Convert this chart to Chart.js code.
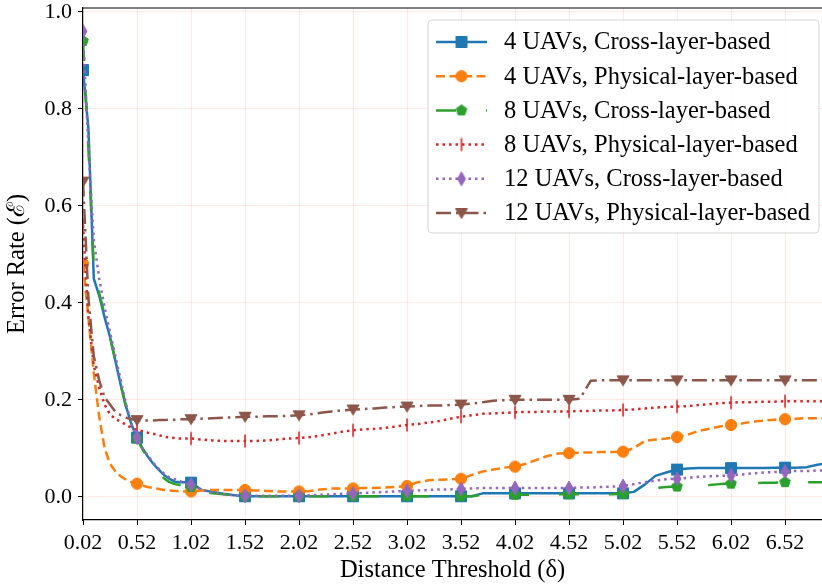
<!DOCTYPE html>
<html lang="en">
<head>
<meta charset="UTF-8">
<title>Error Rate vs Distance Threshold</title>
<script src="https://cdn.jsdelivr.net/npm/chart.js"></script>
<style>
    body {
        margin: 0;
        background: #fff;
    }

    #wrap {
        width: 822px;
        height: 585px;
    }
</style>
</head>
<body>
<div id="wrap"><canvas id="errChart" width="822" height="585"></canvas></div>

<script>
    // Distance threshold samples (finer steps over the initial drop)
    const distances = [
        0.02, 0.07, 0.12, 0.17, 0.22, 0.27, 0.32, 0.37, 0.42, 0.47,
        0.52, 0.57, 0.62, 0.67, 0.72, 0.77, 0.82, 0.87, 0.92, 0.97,
        1.02, 1.12, 1.22, 1.32, 1.42, 1.52, 1.62, 1.72, 1.82, 1.92,
        2.02, 2.12, 2.22, 2.32, 2.42, 2.52, 2.62, 2.72, 2.82, 2.92,
        3.02, 3.12, 3.22, 3.32, 3.42, 3.52, 3.62, 3.72, 3.82, 3.92,
        4.02, 4.12, 4.22, 4.32, 4.42, 4.52, 4.62, 4.72, 4.82, 4.92,
        5.02, 5.12, 5.22, 5.32, 5.42, 5.52, 5.62, 5.72, 5.82, 5.92,
        6.02, 6.12, 6.22, 6.32, 6.42, 6.52, 6.62, 6.72, 6.82, 6.92
    ];

    const xTicks = [0.02, 0.52, 1.02, 1.52, 2.02, 2.52, 3.02, 3.52, 4.02, 4.52, 5.02, 5.52, 6.02, 6.52];
    const xTickLabels = ['0.02', '0.52', '1.02', '1.52', '2.02', '2.52', '3.02', '3.52', '4.02', '4.52', '5.02', '5.52', '6.02', '6.52'];
    const yTicks = [0.0, 0.2, 0.4, 0.6, 0.8, 1.0];
    const yTickLabels = ['0.0', '0.2', '0.4', '0.6', '0.8', '1.0'];

    const seriesLabels = [
        '4 UAVs, Cross-layer-based',
        '4 UAVs, Physical-layer-based',
        '8 UAVs, Cross-layer-based',
        '8 UAVs, Physical-layer-based',
        '12 UAVs, Cross-layer-based',
        '12 UAVs, Physical-layer-based'
    ];

    const uav4Cross = [
        0.88, 0.76, 0.45, 0.415, 0.37, 0.33, 0.28, 0.23, 0.185, 0.148,
        0.122, 0.100, 0.083, 0.068, 0.056, 0.045, 0.037, 0.031, 0.030, 0.030,
        0.029, 0.014, 0.010, 0.006, 0.003, 0.001, 0.001, 0.001, 0.001, 0.001,
        0.001, 0.001, 0.001, 0.001, 0.001, 0.001, 0.001, 0.001, 0.001, 0.001,
        0.001, 0.001, 0.001, 0.001, 0.001, 0.001, 0.001, 0.007, 0.007, 0.007,
        0.007, 0.007, 0.007, 0.007, 0.007, 0.007, 0.007, 0.007, 0.007, 0.007,
        0.007, 0.010, 0.025, 0.043, 0.050, 0.056, 0.058, 0.059, 0.059, 0.059,
        0.059, 0.059, 0.059, 0.059, 0.060, 0.060, 0.060, 0.061, 0.066, 0.070
    ];

    const uav4Phys = [
        0.48, 0.37, 0.255, 0.165, 0.100, 0.068, 0.052, 0.042, 0.035, 0.030,
        0.027, 0.023, 0.020, 0.018, 0.016, 0.014, 0.013, 0.012, 0.012, 0.011,
        0.011, 0.013, 0.014, 0.014, 0.014, 0.014, 0.013, 0.012, 0.011, 0.011,
        0.011, 0.012, 0.015, 0.017, 0.017, 0.017, 0.018, 0.018, 0.019, 0.020,
        0.022, 0.030, 0.034, 0.035, 0.036, 0.037, 0.045, 0.052, 0.056, 0.060,
        0.062, 0.068, 0.076, 0.084, 0.089, 0.090, 0.091, 0.091, 0.092, 0.092,
        0.093, 0.100, 0.115, 0.118, 0.120, 0.123, 0.128, 0.136, 0.140, 0.145,
        0.148, 0.151, 0.155, 0.157, 0.159, 0.160, 0.161, 0.162, 0.162, 0.162
    ];

    const uav8Cross = [
        0.94, 0.72, 0.47, 0.42, 0.375, 0.33, 0.28, 0.23, 0.183, 0.145,
        0.120, 0.098, 0.080, 0.064, 0.050, 0.038, 0.030, 0.026, 0.024, 0.022,
        0.020, 0.010, 0.007, 0.005, 0.003, 0.001, 0.001, 0.001, 0.001, 0.001,
        0.001, 0.001, 0.001, 0.001, 0.001, 0.001, 0.001, 0.001, 0.001, 0.001,
        0.001, 0.001, 0.001, 0.001, 0.001, 0.001, 0.001, 0.004, 0.004, 0.004,
        0.004, 0.004, 0.004, 0.005, 0.005, 0.005, 0.005, 0.005, 0.005, 0.005,
        0.006, 0.007, 0.012, 0.018, 0.020, 0.021, 0.022, 0.023, 0.024, 0.026,
        0.027, 0.028, 0.028, 0.029, 0.029, 0.030, 0.030, 0.030, 0.030, 0.030
    ];

    const uav8Phys = [
        0.56, 0.37, 0.27, 0.225, 0.190, 0.170, 0.160, 0.155, 0.148, 0.142,
        0.138, 0.135, 0.132, 0.130, 0.127, 0.124, 0.122, 0.121, 0.120, 0.120,
        0.120, 0.118, 0.116, 0.115, 0.115, 0.115, 0.115, 0.116, 0.118, 0.120,
        0.121, 0.123, 0.126, 0.130, 0.134, 0.137, 0.139, 0.140, 0.142, 0.145,
        0.148, 0.150, 0.153, 0.156, 0.161, 0.165, 0.168, 0.171, 0.172, 0.173,
        0.174, 0.175, 0.175, 0.176, 0.176, 0.176, 0.177, 0.177, 0.178, 0.178,
        0.179, 0.180, 0.182, 0.184, 0.185, 0.186, 0.187, 0.189, 0.191, 0.193,
        0.194, 0.195, 0.195, 0.196, 0.196, 0.197, 0.197, 0.197, 0.197, 0.197
    ];

    const uav12Cross = [
        0.96, 0.72, 0.53, 0.45, 0.39, 0.34, 0.29, 0.24, 0.19, 0.15,
        0.122, 0.100, 0.085, 0.070, 0.058, 0.048, 0.040, 0.036, 0.032, 0.028,
        0.025, 0.014, 0.008, 0.005, 0.003, 0.002, 0.002, 0.002, 0.002, 0.002,
        0.002, 0.003, 0.004, 0.005, 0.006, 0.007, 0.008, 0.009, 0.010, 0.011,
        0.012, 0.013, 0.014, 0.015, 0.015, 0.016, 0.017, 0.018, 0.018, 0.018,
        0.018, 0.018, 0.018, 0.018, 0.018, 0.018, 0.019, 0.019, 0.020, 0.021,
        0.022, 0.026, 0.030, 0.033, 0.036, 0.037, 0.039, 0.041, 0.042, 0.043,
        0.044, 0.046, 0.048, 0.050, 0.051, 0.052, 0.053, 0.053, 0.054, 0.054
    ];

    const uav12Phys = [
        0.65, 0.41, 0.29, 0.24, 0.205, 0.190, 0.175, 0.168, 0.163, 0.160,
        0.158, 0.157, 0.157, 0.157, 0.158, 0.158, 0.159, 0.159, 0.160, 0.160,
        0.160, 0.161, 0.162, 0.163, 0.164, 0.165, 0.165, 0.166, 0.166, 0.167,
        0.168, 0.170, 0.173, 0.176, 0.178, 0.180, 0.181, 0.182, 0.184, 0.185,
        0.186, 0.187, 0.188, 0.188, 0.189, 0.190, 0.192, 0.195, 0.198, 0.199,
        0.200, 0.200, 0.200, 0.200, 0.200, 0.200, 0.202, 0.239, 0.240, 0.240,
        0.240, 0.240, 0.240, 0.240, 0.240, 0.240, 0.240, 0.240, 0.240, 0.240,
        0.240, 0.240, 0.240, 0.240, 0.240, 0.240, 0.240, 0.240, 0.240, 0.240
    ];

    const seriesValues = [uav4Cross, uav4Phys, uav8Cross, uav8Phys, uav12Cross, uav12Phys];

    const serif = "'Liberation Serif', 'Times New Roman', serif";

    // Line style and marker per series
    const styles = [
        { color: '#1f77b4', dash: [], marker: 'square' },
        { color: '#ff7f0e', dash: [9, 4.5], marker: 'circle' },
        { color: '#2ca02c', dash: [20, 30], marker: 'pentagon' },
        { color: '#d62728', dash: [2.5, 4], marker: 'vline' },
        { color: '#9467bd', dash: [2.5, 4], marker: 'thinDiamond' },
        { color: '#8c564b', dash: [15, 5, 2.5, 5], marker: 'triangleDown' }
    ];

    // Small offscreen canvases used as point styles
    function makeMarker(shape, color) {
        const c = document.createElement('canvas');
        c.width = 18;
        c.height = 18;
        const g = c.getContext('2d');
        g.translate(9, 9);
        g.fillStyle = color;
        g.strokeStyle = color;
        g.lineWidth = 1;
        g.beginPath();
        switch (shape) {
            case 'square':
                g.rect(-5.5, -5.5, 11, 11);
                break;
            case 'circle':
                g.arc(0, 0, 5.6, 0, Math.PI * 2);
                break;
            case 'pentagon':
                for (let k = 0; k < 5; k++) {
                    const a = -Math.PI / 2 + k * 2 * Math.PI / 5;
                    g.lineTo(5.6 * Math.cos(a), 5.6 * Math.sin(a));
                }
                g.closePath();
                break;
            case 'vline':
                g.moveTo(0, -6.5);
                g.lineTo(0, 6.5);
                g.lineWidth = 1.6;
                g.stroke();
                return c;
            case 'thinDiamond':
                g.moveTo(0, -7);
                g.lineTo(4, 0);
                g.lineTo(0, 7);
                g.lineTo(-4, 0);
                g.closePath();
                break;
            case 'triangleDown':
                g.moveTo(-6, -4.5);
                g.lineTo(6, -4.5);
                g.lineTo(0, 5.5);
                g.closePath();
                break;
        }
        g.fill();
        g.stroke();
        return c;
    }

    const markers = styles.map(s => makeMarker(s.marker, s.color));

    // markers only sit on the labelled distances
    function isMark(x) {
        return xTicks.some(t => Math.abs(t - x) < 1e-6);
    }

    const datasets = seriesValues.map((vals, i) => ({
        label: seriesLabels[i],
        data: distances.map((d, k) => ({ x: d, y: vals[k] })),
        borderColor: styles[i].color,
        backgroundColor: styles[i].color,
        borderWidth: 2.5,
        borderDash: styles[i].dash,
        borderCapStyle: 'butt',
        borderJoinStyle: 'round',
        pointStyle: markers[i],
        pointRadius: c => (c.raw && isMark(c.raw.x)) ? 6 : 0,
        pointHoverRadius: 0,
        tension: 0,
        fill: false,
        clip: 0,
        // later series are drawn on top
        order: seriesValues.length - 1 - i
    }));

    // top spine + boxed legend with line samples
    const framePlugin = {
        id: 'frame',
        afterDraw(chart) {
            const { ctx, chartArea } = chart;
            ctx.save();
            ctx.strokeStyle = '#000';
            ctx.lineWidth = 1.2;
            ctx.beginPath();
            ctx.moveTo(chartArea.left, chartArea.top);
            ctx.lineTo(chartArea.right, chartArea.top);
            ctx.stroke();

            const boxW = 391, boxH = 213;
            const bx = chartArea.right - 3 - boxW;
            const by = chartArea.top + 12;
            const r = 4;
            ctx.beginPath();
            ctx.moveTo(bx + r, by);
            ctx.arcTo(bx + boxW, by, bx + boxW, by + boxH, r);
            ctx.arcTo(bx + boxW, by + boxH, bx, by + boxH, r);
            ctx.arcTo(bx, by + boxH, bx, by, r);
            ctx.arcTo(bx, by, bx + boxW, by, r);
            ctx.closePath();
            ctx.fillStyle = 'rgba(255,255,255,0.85)';
            ctx.fill();
            ctx.strokeStyle = '#d4d4d4';
            ctx.lineWidth = 1;
            ctx.stroke();

            seriesLabels.forEach((label, i) => {
                const y = by + 22 + i * 34.2;
                const x0 = bx + 8, x1 = bx + 59, mx = (x0 + x1) / 2;
                ctx.setLineDash(styles[i].dash);
                ctx.lineWidth = 2.5;
                ctx.lineCap = 'butt';
                ctx.strokeStyle = styles[i].color;
                ctx.beginPath();
                ctx.moveTo(x0, y);
                ctx.lineTo(x1, y);
                ctx.stroke();
                ctx.setLineDash([]);
                ctx.drawImage(markers[i], mx - 9, y - 9);

                ctx.fillStyle = '#000';
                ctx.font = '24.5px ' + serif;
                ctx.textBaseline = 'middle';
                ctx.textAlign = 'left';
                ctx.fillText(label, bx + 76, y + 1);
            });
            ctx.restore();
        }
    };

    const ctx = document.getElementById('errChart').getContext('2d');
    const chart = new Chart(ctx, {
        type: 'line',
        data: { datasets: datasets },
        options: {
            responsive: false,
            animation: false,
            events: [],
            layout: { autoPadding: false, padding: { top: 8, right: 0, left: 0, bottom: 0 } },
            plugins: {
                legend: { display: false },
                tooltip: { enabled: false }
            },
            scales: {
                x: {
                    type: 'linear',
                    min: 0.02,
                    max: 6.862,
                    afterBuildTicks: s => { s.ticks = xTicks.map(v => ({ value: v })); },
                    afterFit: s => { s.height = 65; s.paddingLeft = 0; s.paddingRight = 0; },
                    ticks: {
                        autoSkip: false,
                        maxRotation: 0,
                        padding: 5,
                        color: '#000',
                        font: { family: serif, size: 22 },
                        callback: (v, i) => xTickLabels[i]
                    },
                    grid: { color: 'rgba(255,0,0,0.09)', tickColor: '#000', tickLength: 5, lineWidth: 1 },
                    border: { color: '#000', width: 1.2 },
                    title: {
                        display: true,
                        text: 'Distance Threshold (δ)',
                        color: '#000',
                        font: { family: serif, size: 24.5 },
                        padding: { top: 0, bottom: 0 }
                    }
                },
                y: {
                    type: 'linear',
                    min: -0.048,
                    max: 1.008,
                    afterBuildTicks: s => { s.ticks = yTicks.map(v => ({ value: v })); },
                    afterFit: s => { s.width = 83; s.paddingTop = 0; s.paddingBottom = 0; },
                    ticks: {
                        padding: 6,
                        color: '#000',
                        font: { family: serif, size: 22 },
                        callback: (v, i) => yTickLabels[i]
                    },
                    grid: { color: 'rgba(255,0,0,0.09)', tickColor: '#000', tickLength: 5, lineWidth: 1 },
                    border: { color: '#000', width: 1.2 },
                    title: {
                        display: true,
                        text: 'Error Rate (ℰ)',
                        color: '#000',
                        font: { family: serif, size: 24.5 },
                        padding: { top: 3, bottom: 0 }
                    }
                }
            }
        },
        plugins: [framePlugin]
    });
</script>
</body>
</html>
